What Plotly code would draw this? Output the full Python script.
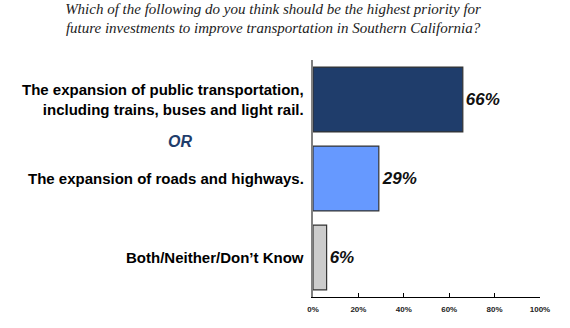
import plotly.graph_objects as go

categories = [
    "The expansion of public transportation,<br>including trains, buses and light rail.",
    "The expansion of roads and highways.",
    "Both/Neither/Don’t Know",
]
values = [66, 29, 6]
value_labels = ["66%", "29%", "6%"]
bar_colors = ["#1F3D6B", "#6699FF", "#CCCCCC"]
tick_vals = [0, 20, 40, 60, 80, 100]
tick_text = ["0%", "20%", "40%", "60%", "80%", "100%"]
title_text = ("<i>Which of the following do you think should be the highest priority for<br>"
              "future investments to improve transportation in Southern California?</i>")

fig = go.Figure()
fig.add_trace(go.Bar(
    x=values,
    y=categories,
    orientation="h",
    marker=dict(color=bar_colors, line=dict(color="#333333", width=1.2)),
    text=["<b><i>%s</i></b>" % t for t in value_labels],
    textposition="outside",
    textfont=dict(family="Liberation Sans, Arial", size=17, color="#111111"),
    cliponaxis=False,
    width=0.82,
    hoverinfo="skip",
))

for cat in categories:
    fig.add_annotation(
        x=0, xref="paper", y=cat, yref="y",
        text="<b>%s</b>" % cat, showarrow=False,
        xanchor="right", yanchor="middle", align="right", xshift=-7,
        font=dict(family="Liberation Sans, Arial", size=15, color="#000000"),
    )

fig.add_annotation(
    x=-0.586, xref="paper", y=0.53, yref="y",
    text="<b><i>OR</i></b>", showarrow=False,
    xanchor="center", yanchor="middle",
    font=dict(family="Liberation Sans, Arial", size=16, color="#1F3D6B"),
)

fig.update_layout(
    width=570, height=328,
    margin=dict(l=313, r=30, t=60, b=31),
    paper_bgcolor="white", plot_bgcolor="white",
    showlegend=False,
    title=dict(
        text=title_text, x=0.479, xanchor="center", xref="container",
        y=0.958, yanchor="middle", yref="container",
        font=dict(family="Liberation Serif, Times New Roman", size=15, color="#222222"),
    ),
    xaxis=dict(
        range=[0, 100], tickvals=tick_vals, ticktext=["<b>%s</b>" % t for t in tick_text],
        showgrid=False, zeroline=False, showline=True, linecolor="#000000", linewidth=1,
        ticks="inside", ticklen=4, tickcolor="#000000", ticklabelstandoff=4,
        tickfont=dict(family="Liberation Sans, Arial", size=8, color="#222222"),
        fixedrange=True,
    ),
    yaxis=dict(
        autorange="reversed", showticklabels=False, showgrid=False, zeroline=False,
        showline=True, linecolor="#808080", linewidth=2, ticks="",
        range=[2.5, -0.5],
    ),
)

fig.write_html("out.html")
